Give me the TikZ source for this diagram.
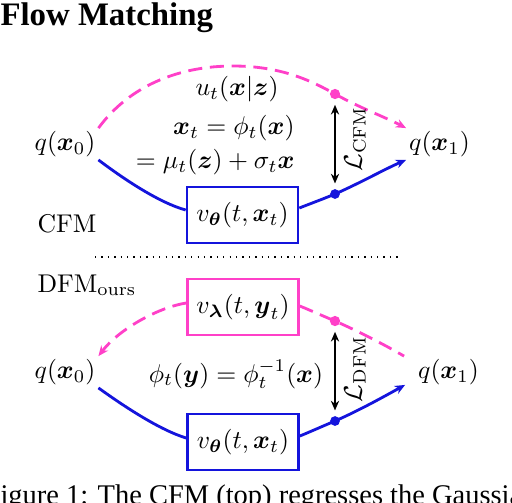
\documentclass[tikz,border=0pt]{standalone}
\usepackage{amsmath,amssymb}
\usepackage[no-math]{fontspec}
\newfontfamily\timesfont{Liberation Serif}
\usetikzlibrary{arrows.meta,calc}
\definecolor{fmpink}{RGB}{255,64,200}
\definecolor{fmblue}{RGB}{20,20,220}
\tikzset{
  lbl/.style={inner sep=1pt},
  plain/.style={inner sep=0pt},
  vbox/.style={draw, line width=1pt, minimum width=43.3pt, minimum height=21.8pt, inner sep=0pt, text=black},
  blueflow/.style={fmblue, line width=1.1pt},
  pinkflow/.style={fmpink, line width=1.1pt, dash pattern=on 5.5pt off 3pt},
  tipb/.style={-{Stealth[open,length=4pt,width=3.4pt]}},
  losstip/.style={{Stealth[open,length=3.8pt,width=3.2pt]}-{Stealth[open,length=3.8pt,width=3.2pt]}, line width=0.8pt, shorten <=2pt, shorten >=2pt},
  pdotstyle/.style={circle, fill=fmpink, inner sep=0pt, minimum size=4pt},
  bdotstyle/.style={circle, fill=fmblue, inner sep=0pt, minimum size=3.8pt},
}
\begin{document}
\begin{tikzpicture}[x=0.39pt,y=-0.39pt]
\useasboundingbox (0,0) rectangle (512,502);
\clip (0,0) rectangle (512,502);

% title
\node[plain, anchor=base west, font=\timesfont\bfseries\fontsize{12.8}{15}\selectfont] (title) at (0,25) {Flow Matching};

% ---------------- CFM (top) ----------------
\node[lbl] (q0a) at (65,144) {$q(\boldsymbol{x}_0)$};
\node[lbl] (q1a) at (439.5,144) {$q(\boldsymbol{x}_1)$};
\node[vbox, draw=fmblue] (vta) at (242.5,215) {$v_{\boldsymbol{\theta}}(t,\boldsymbol{x}_t)$};
\node[plain] (uta) at (237,89) {$u_t(\boldsymbol{x}|\boldsymbol{z})$};
\node[plain, anchor=east] (eq1) at (295,128) {$\boldsymbol{x}_t=\phi_t(\boldsymbol{x})$};
\node[plain, anchor=east] (eq2) at (295,162.5) {$=\mu_t(\boldsymbol{z})+\sigma_t\boldsymbol{x}$};
\node[plain, anchor=base west] (cfm) at (37,232) {CFM};

\coordinate (pa) at (335,94);
\coordinate (ba) at (335,194);

\draw[pinkflow, tipb] (q0a.north east) .. controls (130,85) and (180,66) .. (233,66)
  .. controls (280,66) and (310,80) .. (pa)
  .. controls (360,108) and (385,117) .. (q1a.north west);
\draw[blueflow] (q0a.south east) .. controls (125,180) and (160,203) .. ($(vta.west)+(0,-5)$);
\draw[blueflow, tipb] ($(vta.east)+(0,-7)$) .. controls (312,203) and (323,199) .. (ba)
  .. controls (360,183) and (385,169) .. (q1a.south west);
\node[pdotstyle] (pda) at (pa) {};
\node[bdotstyle] (bda) at (ba) {};
\draw[losstip] (pda) -- (bda);
\node[plain, rotate=90] (lcfm) at (355,139) {$\mathcal{L}_{\mathrm{CFM}}$};

% separator
\coordinate (sepl) at (95,257);
\coordinate (sepr) at (400,257);
\draw[dotted, line width=0.5pt] (sepl) -- (sepr);

% ---------------- DFM (bottom) ----------------
\node[plain, anchor=base west] (dfm) at (37,292) {DFM$_{\text{ours}}$};
\node[vbox, draw=fmpink] (vlb) at (243,307) {$v_{\boldsymbol{\lambda}}(t,\boldsymbol{y}_t)$};
\node[lbl] (q0b) at (65,372) {$q(\boldsymbol{x}_0)$};
\node[lbl] (q1b) at (448.5,372) {$q(\boldsymbol{x}_1)$};
\node[plain, anchor=base] (phib) at (236,382) {$\phi_t(\boldsymbol{y})=\phi_t^{-1}(\boldsymbol{x})$};
\node[vbox, draw=fmblue] (vtb) at (243,442) {$v_{\boldsymbol{\theta}}(t,\boldsymbol{x}_t)$};

\coordinate (pb) at (335,321);
\coordinate (bb) at (335,421);

\draw[pinkflow, tipb] ($(vlb.west)+(0,-4)$) .. controls (160,307) and (120,328) .. (q0b.north east);
\draw[pinkflow] ($(vlb.east)+(0,-1)$) .. controls (312,311) and (323,316) .. (pb)
  .. controls (360,332) and (385,345) .. ($(q1b.north west)+(-11,0)$);
\draw[blueflow] (q0b.south east) .. controls (125,407) and (160,430) .. ($(vtb.west)+(0,-4)$);
\draw[blueflow, tipb] ($(vtb.east)+(0,-6)$) .. controls (312,431) and (323,426) .. (bb)
  .. controls (360,410) and (385,396) .. ($(q1b.south west)+(-10,-3)$);
\node[pdotstyle] (pdb) at (pb) {};
\node[bdotstyle] (bdb) at (bb) {};
\draw[losstip] (pdb) -- (bdb);
\node[plain, rotate=90] (ldfm) at (355,369) {$\mathcal{L}_{\mathrm{DFM}}$};

% caption (cut by the frame)
\node[plain, anchor=base west, font=\timesfont\fontsize{11.1}{13}\selectfont] (cap) at (0,504.5) {igure 1: The CFM (top) regresses the Gaussia};
\end{tikzpicture}
\end{document}
